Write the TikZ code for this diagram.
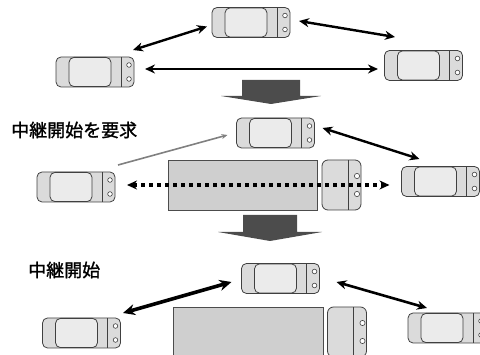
\documentclass[tikz,border=0pt]{standalone}
\usepackage{fontspec}
\newfontfamily\cjk[FakeBold=1.4]{Noto Sans CJK JP}
\usetikzlibrary{arrows.meta}
\begin{document}
\begin{tikzpicture}[x=1pt,y=-1pt,
  outline/.style={draw=black!75, line width=0.8pt},
  % horizontal car seen from above, front to the right
  car/.style={outline, fill=gray!28, rounded corners=5pt,
    minimum width=78pt, minimum height=30pt, inner sep=0pt, outer sep=0pt,
    path picture={
      \draw[outline, fill=gray!16, rounded corners=5pt]
        ([xshift=13pt,yshift=0.4pt]path picture bounding box.south west) rectangle
        ([xshift=55pt,yshift=-0.4pt]path picture bounding box.north west);
      \draw[outline, sharp corners]
        ([xshift=-13pt]path picture bounding box.south east) --
        ([xshift=-13pt]path picture bounding box.north east);
      \draw[outline, line width=0.6pt, fill=white]
        ([xshift=-5pt,yshift=7pt]path picture bounding box.east) circle[radius=2.3pt]
        ([xshift=-5pt,yshift=-7pt]path picture bounding box.east) circle[radius=2.3pt];
    }},
  % short car standing next to the block
  vcar/.style={outline, fill=gray!28, rounded corners=6pt,
    minimum width=39pt, minimum height=50pt, inner sep=0pt, outer sep=0pt,
    path picture={
      \draw[outline, sharp corners]
        ([xshift=-13pt]path picture bounding box.south east) --
        ([xshift=-13pt]path picture bounding box.north east);
      \draw[outline, line width=0.6pt, fill=white]
        ([xshift=-4pt,yshift=9pt]path picture bounding box.east) circle[radius=2.6pt]
        ([xshift=-4pt,yshift=-9pt]path picture bounding box.east) circle[radius=2.6pt];
    }},
  block/.style={draw=black!70, line width=0.6pt, fill=gray!38, inner sep=0pt, outer sep=0pt},
  link/.style={line width=2.4pt, {Stealth[length=10pt,width=9pt]}-{Stealth[length=10pt,width=9pt]}},
  biglink/.style={line width=3.6pt, {Stealth[length=12pt,width=11pt]}-{Stealth[length=12pt,width=11pt]}},
  dotlink/.style={line width=3.2pt, dash pattern=on 3.5pt off 4.5pt,
    {Stealth[length=10pt,width=9pt]}-{Stealth[length=10pt,width=9pt]}},
  request/.style={gray, line width=1.6pt, -{Stealth[length=6pt,width=5pt]}},
  bigarrow/.style={fill=black!70},
  label/.style={anchor=west, inner sep=0pt, font=\cjk\fontsize{18}{20}\selectfont}
]
\useasboundingbox (0,0) rectangle (480,355);

% ---- top: all cars talk directly ----
\node[car] (A) at (251,22.5) {};
\node[car] (B) at (95,72) {};
\node[car] (C) at (423.5,65.5) {};
\draw[link] ([shift={(-5,4)}]A.west) -- ([shift={(-1,-7)}]B.north east);
\draw[link] ([shift={(9,-1.5)}]A.east) -- ([shift={(10.5,-13.5)}]C.north west);
\draw[link] ([shift={(11,-3)}]B.east) -- ([shift={(-6.5,3.5)}]C.west);

\fill[bigarrow] (242,80) -- (300,80) -- (300,96) -- (321,96) -- (271,104)
  -- (221,96) -- (242,96) -- cycle;

% ---- middle: the block cuts the link, a relay is requested ----
\node[label] (t1) at (11,130) {中継開始を要求};
\node[car] (D) at (275.5,133) {};
\node[car] (E) at (76,187) {};
\node[car] (G) at (440.5,181.5) {};
\node[block, minimum width=149pt, minimum height=50pt] (R1) at (242.5,185) {};
\node[vcar] (F) at (341.5,185) {};
\coordinate (req) at (118,165);
\draw[request] (req) -- ([shift={(-9,2)}]D.west);
\draw[link] ([shift={(8,-5)}]D.east) -- ([shift={(18,-7.5)}]G.north west);
\draw[dotlink] ([shift={(12,-2)}]E.east) -- ([shift={(-12,3.5)}]G.west);

\fill[bigarrow] (243,215) -- (297,215) -- (297,232) -- (322,232) -- (270,241)
  -- (218,232) -- (243,232) -- cycle;

% ---- bottom: the relay is running ----
\node[label] (t2) at (28,270) {中継開始};
\node[car] (H) at (280.5,278.5) {};
\node[car] (I) at (81.5,333) {};
\node[car] (J) at (447,328) {};
\node[block, minimum width=150pt, minimum height=53pt] (R2) at (248,333.5) {};
\node[vcar] (K) at (347,332) {};
\draw[biglink] ([shift={(-10,3.5)}]H.west) -- ([shift={(2.5,-5)}]I.north east);
\draw[link, line width=2.6pt] ([shift={(17,3.5)}]H.east) -- ([shift={(19,-5)}]J.north west);
\end{tikzpicture}
\end{document}
